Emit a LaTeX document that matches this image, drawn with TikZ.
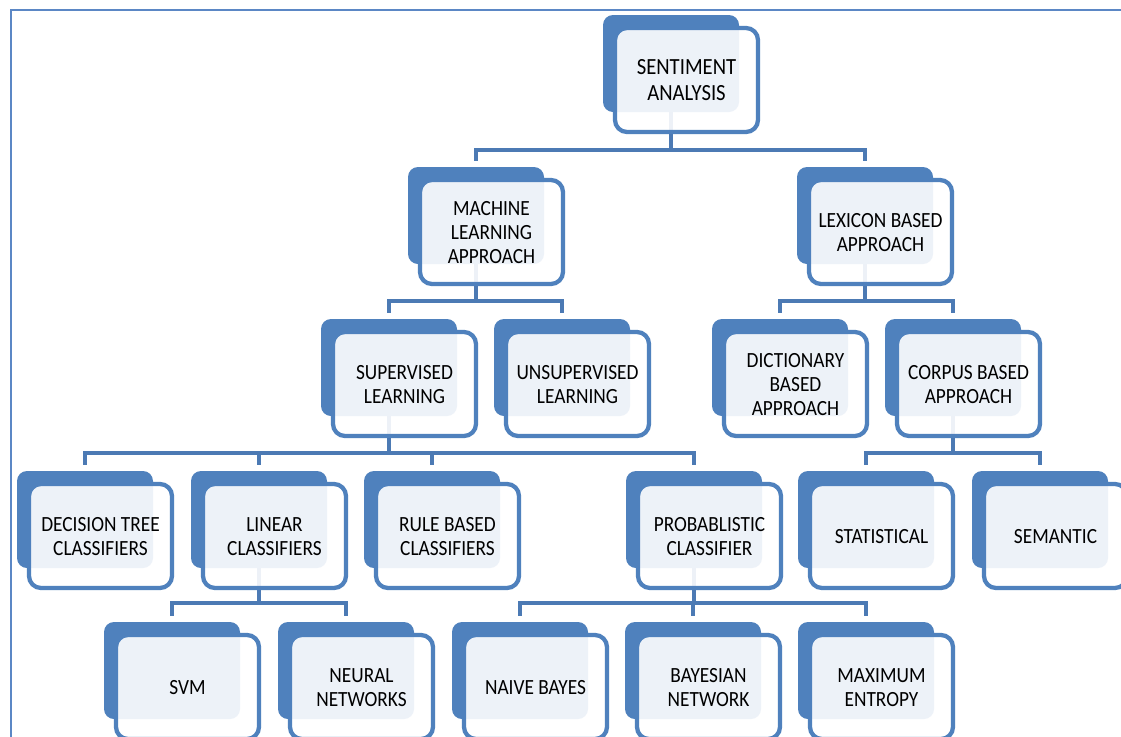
\documentclass[tikz,border=0pt]{standalone}
\usepackage{fontspec}
\usepackage{graphicx}
\setmainfont{Carlito}
\usetikzlibrary{calc}
\definecolor{bblue}{RGB}{79,129,189}
\definecolor{cblue}{RGB}{76,122,180}
\definecolor{framec}{RGB}{91,135,197}
\pgfdeclarelayer{bg}
\pgfdeclarelayer{paper}
\pgfsetlayers{paper,bg,main}
\begin{document}
\begin{tikzpicture}[x=0.75pt,y=-0.75pt,
 backbox/.style={fill=bblue, rounded corners=7.5pt, minimum width=102pt, minimum height=72.75pt, inner sep=0pt, draw=none},
 frontbox/.style={draw=bblue, line width=3.2pt, fill=white, fill opacity=0.9, text opacity=1, rounded corners=9pt, minimum width=107.25pt, minimum height=78pt, inner sep=0pt, align=center, text=black, font=\fontsize{14.5}{16}\selectfont},
 bigtext/.style={font=\fontsize{15.5}{17.4}\selectfont},
 conn/.style={draw=cblue, line width=3pt, line join=miter}
]
\useasboundingbox (0,0) rectangle (1121,736);
\clip (0,0) rectangle (1121,736);
\begin{pgfonlayer}{paper}
\fill[white] (0,0) rectangle (1121,736);
\draw[framec, line width=1.6pt] (11,760) -- (11,10) -- (1140,10);
\end{pgfonlayer}
\newcommand{\smbox}[5][]{%
 \node[backbox] (#2) at (#3+68, #4+48.5) {};
 \node[frontbox,#1] (#2-f) at (#3+83.5, #4+65) {\raisebox{-1.8pt}[\height][\depth]{\scalebox{1}[1.12]{\begin{tabular}{@{}c@{}}#5\end{tabular}}}};
}
\newcommand{\tconn}[3]{%
 \draw[conn] (#1.center) -- (#1.center |- #2) -| ($(#3.north)+(0,-6)$);
}
\coordinate (b1) at (0,150);
\coordinate (b2) at (0,301);
\coordinate (b3) at (0,453);
\coordinate (b4) at (0,603);
% level 1
\smbox[bigtext]{sa}{603}{15}{SENTIMENT\\ANALYSIS}
% level 2
\smbox{ml}{408}{167}{MACHINE\\LEARNING\\APPROACH}
\smbox{lex}{797}{167}{LEXICON BASED\\APPROACH}
% level 3
\smbox{sup}{321}{319}{SUPERVISED\\LEARNING}
\smbox{unsup}{494}{319}{UNSUPERVISED\\LEARNING}
\smbox{dict}{712}{319}{DICTIONARY\\BASED\\APPROACH}
\smbox{corp}{885}{319}{CORPUS BASED\\APPROACH}
% level 4
\smbox{dt}{17}{471}{DECISION TREE\\CLASSIFIERS}
\smbox{lin}{191}{471}{LINEAR\\CLASSIFIERS}
\smbox{rule}{364}{471}{RULE BASED\\CLASSIFIERS}
\smbox{prob}{626}{471}{PROBABLISTIC\\CLASSIFIER}
\smbox{stat}{798}{471}{STATISTICAL}
\smbox{sem}{972}{471}{SEMANTIC}
% level 5
\smbox{svm}{104}{622}{SVM}
\smbox{nn}{278}{622}{NEURAL\\NETWORKS}
\smbox{nb}{452}{622}{NAIVE BAYES}
\smbox{bn}{625}{622}{BAYESIAN\\NETWORK}
\smbox{me}{798}{622}{MAXIMUM\\ENTROPY}
\begin{pgfonlayer}{bg}
\tconn{sa}{b1}{ml}
\tconn{sa}{b1}{lex}
\tconn{ml}{b2}{sup}
\tconn{ml}{b2}{unsup}
\tconn{lex}{b2}{dict}
\tconn{lex}{b2}{corp}
\tconn{sup}{b3}{dt}
\tconn{sup}{b3}{lin}
\tconn{sup}{b3}{rule}
\tconn{sup}{b3}{prob}
\tconn{corp}{b3}{stat}
\tconn{corp}{b3}{sem}
\tconn{lin}{b4}{svm}
\tconn{lin}{b4}{nn}
\tconn{prob}{b4}{nb}
\tconn{prob}{b4}{bn}
\tconn{prob}{b4}{me}
\end{pgfonlayer}
\end{tikzpicture}
\end{document}
